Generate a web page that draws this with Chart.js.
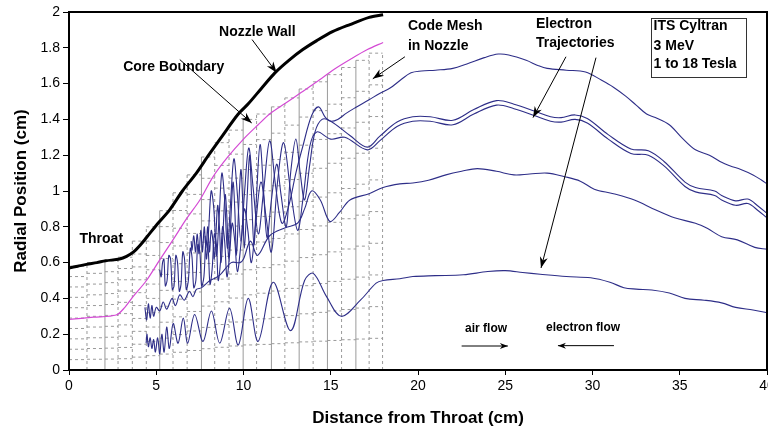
<!DOCTYPE html>
<html><head><meta charset="utf-8">
<script src="https://cdn.jsdelivr.net/npm/chart.js@4/dist/chart.umd.min.js"></script>
<style>html,body{margin:0;padding:0;background:#fff}</style>
</head><body>
<canvas id="c" width="768" height="431"></canvas>
<script>
// ---------------- data ----------------
const nozzleWall = [[0,0.57],[0.5,0.58],[1.0,0.59],[1.6,0.60],[2.1,0.61],[2.9,0.62],[3.3,0.635],[3.7,0.66],[4.1,0.70],[4.44,0.74],[5.1,0.82],[5.77,0.895],[6.5,1.0],[7.3,1.10],[8.0,1.20],[8.8,1.31],[9.7,1.43],[10.3,1.49],[11.0,1.57],[11.8,1.66],[12.6,1.73],[13.4,1.79],[14.2,1.84],[15.1,1.89],[16.1,1.93],[17.2,1.97],[18.0,1.985]];
const coreBoundary = [[0,0.283],[1.4,0.295],[2.7,0.307],[3.2,0.35],[3.67,0.41],[4.44,0.50],[5.2,0.615],[5.96,0.727],[6.7,0.84],[7.5,0.95],[8.26,1.08],[9.1,1.19],[10.0,1.29],[10.84,1.37],[11.5,1.43],[12.4,1.49],[13.3,1.55],[14.2,1.61],[15.2,1.68],[16.2,1.74],[17.1,1.79],[18.0,1.83]];
const meshEdges = [0,1.03,2.06,2.81,3.63,4.43,5.2,5.96,6.77,7.59,8.35,9.17,9.98,10.75,11.6,12.37,13.19,13.99,14.81,15.62,16.44,17.2,17.97];
const meshTops = [0.58,0.60,0.61,0.63,0.72,0.80,0.89,0.99,1.09,1.19,1.27,1.34,1.40,1.43,1.47,1.52,1.57,1.61,1.65,1.69,1.73,1.77];
const meshRows = 10;
const meshSolidEdges = [2.06,5.2,7.59,9.98,11.6,13.19,14.81,16.44];

const traj1 = [[40,1.04],[39.7,1.06],[39.2,1.09],[38.5,1.12],[37.9,1.14],[37.4,1.16],[36.7,1.20],[35.9,1.23],[35.1,1.30],[34.4,1.37],[33.6,1.41],[33.1,1.43],[32.5,1.48],[31.9,1.53],[31.2,1.58],[30.5,1.62],[29.6,1.665],[28.5,1.675],[27.4,1.685],[26.9,1.70],[26.2,1.73],[25.2,1.76],[24.6,1.765],[23.8,1.745],[22.8,1.71],[22.0,1.685],[21.0,1.675],[20.2,1.67],[19.6,1.66],[19.0,1.62],[18.4,1.575],[17.8,1.545],[17.2,1.51],[16.4,1.465],[15.9,1.435],[15.4,1.40],[15.0,1.39],[14.7,1.41],[14.3,1.47],[13.9,1.42],[13.4,1.25],[13.0,1.10],[12.6,0.92],[12.2,0.82],[11.85,1.02],[11.5,1.28],[11.15,1.0],[10.85,0.76],[10.55,1.02],[10.3,1.24],[10.05,0.98],[9.85,0.72],[9.65,0.98],[9.45,1.18],[9.25,0.92],[9.08,0.68],[8.92,0.95],[8.76,1.1],[8.6,0.85],[8.45,0.64],[8.3,0.9],[8.15,1.0],[8.0,0.78],[7.88,0.62],[7.8,0.75]];
const traj2 = [[40,0.875],[39.5,0.915],[38.9,0.955],[38.2,0.945],[37.4,0.975],[37.0,1.0],[35.9,1.02],[35.3,1.05],[34.1,1.165],[33.2,1.225],[32.2,1.235],[30.9,1.315],[29.7,1.405],[29.0,1.425],[28.2,1.41],[27.6,1.415],[26.7,1.445],[25.5,1.485],[24.5,1.505],[23.2,1.455],[22.0,1.395],[20.7,1.415],[19.7,1.415],[18.8,1.385],[17.8,1.305],[17.1,1.245],[16.1,1.31],[15.0,1.39],[14.5,1.40],[14.1,1.33],[13.8,1.15],[13.5,0.95],[13.25,1.1],[13.0,1.29],[12.7,1.1],[12.45,0.8],[12.15,0.98],[11.9,1.15],[11.6,0.95],[11.35,0.74],[11.15,1.0],[10.95,1.26],[10.75,0.98],[10.6,0.7],[10.45,1.0],[10.35,1.2],[10.2,0.95],[10.05,0.68],[9.95,0.95],[9.85,1.12],[9.72,0.9],[9.6,0.64],[9.5,0.9],[9.4,1.05],[9.28,0.85],[9.15,0.62],[9.05,0.85],[8.95,0.98],[8.84,0.8],[8.72,0.6],[8.62,0.8],[8.52,0.92],[8.42,0.76],[8.32,0.62],[8.25,0.72],[8.15,0.78],[8.05,0.66],[7.95,0.8],[7.85,0.68],[7.75,0.8],[7.65,0.66],[7.55,0.78],[7.45,0.65],[7.35,0.76],[7.25,0.66],[7.15,0.75],[7.05,0.67],[7.0,0.72]];
const traj3 = [[40,0.85],[39.5,0.89],[38.9,0.93],[38.2,0.92],[37.4,0.95],[37.0,0.975],[35.9,0.995],[35.3,1.025],[34.1,1.14],[33.2,1.20],[32.2,1.21],[30.9,1.29],[29.7,1.38],[29.0,1.40],[28.2,1.385],[27.6,1.39],[26.7,1.42],[25.5,1.46],[24.5,1.48],[23.2,1.43],[22.0,1.37],[20.7,1.39],[19.7,1.39],[18.8,1.36],[17.8,1.28],[17.1,1.23],[15.8,1.30],[15.0,1.29],[14.2,1.33],[13.8,1.25],[13.4,0.95],[13.1,0.78],[12.7,1.0],[12.3,1.27],[11.95,1.05],[11.6,0.66],[11.3,0.85],[11.0,1.05],[10.7,0.82],[10.45,0.6],[10.25,0.78],[10.05,0.9],[9.85,0.7],[9.65,0.55],[9.5,0.72],[9.35,0.82],[9.2,0.64],[9.05,0.52],[8.92,0.72],[8.8,0.8],[8.68,0.6],[8.55,0.5],[8.45,0.7],[8.33,0.76],[8.2,0.56],[8.08,0.48],[7.97,0.68],[7.85,0.72],[7.73,0.52],[7.6,0.47],[7.5,0.66],[7.38,0.7],[7.27,0.5],[7.15,0.46],[7.05,0.63],[6.95,0.68],[6.84,0.5],[6.72,0.45],[6.62,0.62],[6.52,0.66],[6.42,0.48],[6.32,0.44],[6.22,0.6],[6.12,0.64],[6.02,0.47],[5.92,0.45],[5.82,0.62],[5.72,0.64],[5.62,0.5],[5.52,0.47],[5.44,0.62],[5.36,0.6],[5.28,0.52],[5.2,0.56]];
const traj4 = [[40,0.675],[39.3,0.685],[38.3,0.727],[37.4,0.745],[36.6,0.79],[35.9,0.82],[34.7,0.85],[33.6,0.895],[32.4,0.95],[31.2,0.985],[30.1,1.01],[29.3,1.055],[28.4,1.08],[27.4,1.10],[26.4,1.095],[25.5,1.09],[24.5,1.11],[23.4,1.125],[22.5,1.11],[21.6,1.09],[20.6,1.06],[19.7,1.045],[18.96,1.04],[18.0,1.02],[17.2,0.985],[16.1,0.95],[15.5,0.88],[14.95,0.83],[14.4,0.95],[13.9,1.0],[13.5,0.9],[13.1,0.82],[12.4,0.795],[11.5,0.75],[10.8,0.64],[10.4,0.72],[10.0,0.62],[9.8,0.6],[9.3,0.6],[8.64,0.53],[8.3,0.51],[8.07,0.50],[7.6,0.46],[7.3,0.45],[7.1,0.41],[6.9,0.44],[6.6,0.39],[6.35,0.42],[6.1,0.36],[5.9,0.40],[5.6,0.34],[5.4,0.38],[5.2,0.33],[5.0,0.35],[4.85,0.30],[4.75,0.36],[4.65,0.29],[4.55,0.37],[4.45,0.28],[4.35,0.35]];
const traj5 = [[40,0.32],[39.2,0.335],[38.2,0.35],[37.4,0.375],[36.4,0.39],[35.3,0.40],[34.4,0.43],[33.4,0.447],[32.5,0.452],[31.8,0.46],[31.0,0.49],[29.9,0.515],[28.5,0.522],[27.0,0.535],[26.0,0.545],[25.0,0.555],[24.0,0.55],[22.6,0.532],[21.0,0.527],[19.7,0.522],[18.96,0.51],[18.0,0.50],[17.6,0.485],[16.7,0.39],[15.6,0.30],[14.76,0.41],[14.0,0.54],[13.5,0.50],[12.7,0.22],[11.7,0.49],[10.84,0.16],[10.27,0.40],[9.7,0.14],[9.2,0.345],[8.64,0.15],[8.16,0.33],[7.68,0.16],[7.2,0.31],[6.8,0.15],[6.55,0.29],[6.25,0.15],[5.97,0.26],[5.75,0.12],[5.6,0.24],[5.45,0.10],[5.32,0.2],[5.2,0.09],[5.08,0.18],[4.95,0.1],[4.85,0.17],[4.75,0.12],[4.65,0.18],[4.55,0.13],[4.47,0.2],[4.42,0.15]];

const labels = [
  {t:'Nozzle Wall', x:10.79, y:1.885, a:'center'},
  {t:'Core Boundary', x:6.0, y:1.69, a:'center'},
  {t:'Code Mesh', x:19.42, y:1.92, a:'left'},
  {t:'in Nozzle', x:19.42, y:1.812, a:'left'},
  {t:'Electron', x:26.76, y:1.93, a:'left'},
  {t:'Trajectories', x:26.76, y:1.827, a:'left'},
  {t:'ITS Cyltran', x:33.5, y:1.92, a:'left'},
  {t:'3 MeV', x:33.5, y:1.808, a:'left'},
  {t:'1 to 18 Tesla', x:33.5, y:1.706, a:'left'},
  {t:'Throat', x:1.85, y:0.731, a:'center'}
];
const smallLabels = [
  {t:'air flow', x:23.9, y:0.233},
  {t:'electron flow', x:29.46, y:0.235}
];
const arrows = [
  {x1:10.49,y1:1.846,x2:11.9,y2:1.661},
  {x1:6.35,y1:1.734,x2:10.47,y2:1.38},
  {x1:19.25,y1:1.75,x2:17.41,y2:1.627},
  {x1:28.48,y1:1.75,x2:26.59,y2:1.41},
  {x1:30.2,y1:1.745,x2:27.05,y2:0.57},
  {x1:22.5,y1:0.134,x2:25.15,y2:0.134},
  {x1:31.23,y1:0.136,x2:28.02,y2:0.136}
];
const infoBox = {x1:33.34, y1:1.967, x2:38.76, y2:1.637};

// ---------------- build datasets ----------------
const pts = a => a.map(p => ({x:p[0], y:p[1]}));
const meshH = [], meshVd = [], meshVs = [];
for (let i = 0; i < meshTops.length; i++) {
  for (let k = 1; k <= meshRows; k++) {
    const yy = meshTops[i] * k / meshRows;
    meshH.push({x:meshEdges[i], y:yy}, {x:meshEdges[i+1], y:yy}, {x:meshEdges[i+1], y:null});
  }
}
for (let j = 1; j < meshEdges.length; j++) {
  const top = Math.max(meshTops[j-1], j < meshTops.length ? meshTops[j] : 0);
  const target = meshSolidEdges.includes(meshEdges[j]) ? meshVs : meshVd;
  target.push({x:meshEdges[j], y:0}, {x:meshEdges[j], y:top}, {x:meshEdges[j], y:null});
}

const trajColor = '#2e2e88';
const trajDs = (d) => ({data:pts(d), borderColor:trajColor, borderWidth:1.1, pointRadius:0, tension:0.35, fill:false});

Chart.defaults.font.family = 'Arial, "Liberation Sans", sans-serif';
Chart.defaults.color = '#000';

function arrow(ctx, x1, y1, x2, y2, len, w) {
  ctx.beginPath(); ctx.moveTo(x1, y1); ctx.lineTo(x2, y2); ctx.stroke();
  const ang = Math.atan2(y2 - y1, x2 - x1);
  const bx = x2 - len * Math.cos(ang), by = y2 - len * Math.sin(ang);
  ctx.beginPath(); ctx.moveTo(x2, y2);
  ctx.lineTo(bx + w * Math.sin(ang), by - w * Math.cos(ang));
  ctx.lineTo(x2 - len * 0.7 * Math.cos(ang), y2 - len * 0.7 * Math.sin(ang));
  ctx.lineTo(bx - w * Math.sin(ang), by + w * Math.cos(ang));
  ctx.closePath(); ctx.fill();
}

const annot = {
  id: 'annot',
  afterDatasetsDraw(chart) {
    const {ctx, chartArea: a, scales: {x, y}} = chart;
    ctx.save();
    ctx.strokeStyle = '#000'; ctx.lineWidth = 2;
    ctx.strokeRect(a.left, a.top, a.right - a.left, a.bottom - a.top);
    ctx.lineWidth = 1; ctx.strokeStyle = '#333';
    const bx1 = x.getPixelForValue(infoBox.x1), by1 = y.getPixelForValue(infoBox.y1);
    const bx2 = x.getPixelForValue(infoBox.x2), by2 = y.getPixelForValue(infoBox.y2);
    ctx.strokeRect(Math.round(bx1) + 0.5, Math.round(by1) + 0.5, Math.round(bx2 - bx1), Math.round(by2 - by1));
    ctx.fillStyle = '#000';
    ctx.textBaseline = 'middle';
    ctx.font = 'bold 14px Arial, "Liberation Sans", sans-serif';
    labels.forEach(l => { ctx.textAlign = l.a; ctx.fillText(l.t, x.getPixelForValue(l.x), y.getPixelForValue(l.y)); });
    ctx.font = 'bold 12px Arial, "Liberation Sans", sans-serif';
    ctx.textAlign = 'center';
    smallLabels.forEach(l => ctx.fillText(l.t, x.getPixelForValue(l.x), y.getPixelForValue(l.y)));
    ctx.strokeStyle = '#000'; ctx.lineWidth = 1;
    arrows.forEach((r, i) => arrow(ctx, x.getPixelForValue(r.x1), y.getPixelForValue(r.y1), x.getPixelForValue(r.x2), y.getPixelForValue(r.y2), i >= 5 ? 8 : 11, i >= 5 ? 3 : 4));
    ctx.restore();
  }
};

const fmt = v => String(parseFloat(Number(v).toFixed(1)));

new Chart(document.getElementById('c'), {
  type: 'line',
  data: {
    datasets: [
      trajDs(traj1), trajDs(traj2), trajDs(traj3), trajDs(traj4), trajDs(traj5),
      {data:pts(nozzleWall), borderColor:'#000', borderWidth:3, pointRadius:0, tension:0.3},
      {data:pts(coreBoundary), borderColor:'#d44ad4', borderWidth:1.2, pointRadius:0, tension:0.3},
      {data:meshVs, borderColor:'#9a9a9a', borderWidth:1, pointRadius:0, tension:0, spanGaps:false},
      {data:meshVd, borderColor:'#9a9a9a', borderWidth:1, borderDash:[3,3], pointRadius:0, tension:0, spanGaps:false},
      {data:meshH, borderColor:'#9a9a9a', borderWidth:1, borderDash:[3,3], pointRadius:0, tension:0, spanGaps:false}
    ]
  },
  options: {
    responsive: false, animation: false, devicePixelRatio: 1,
    layout: {padding: {top: 12, right: 1, left: 0, bottom: 0}},
    plugins: {legend: {display: false}, tooltip: {enabled: false}},
    scales: {
      x: {
        type: 'linear', min: 0, max: 40,
        ticks: {stepSize: 5, font: {size: 14}, padding: 3, maxRotation: 0, callback: fmt},
        grid: {drawOnChartArea: false, tickLength: 5, color: '#000'},
        border: {color: '#000', width: 2},
        title: {display: true, text: 'Distance from Throat (cm)', font: {size: 17, weight: 'bold'}, padding: {top: 0, bottom: 2}},
        afterFit(s) { s.height = 61; s.paddingRight = 0; s.paddingLeft = 0; }
      },
      y: {
        type: 'linear', min: 0, max: 2,
        ticks: {stepSize: 0.2, font: {size: 14}, padding: 3, callback: fmt},
        grid: {drawOnChartArea: false, tickLength: 6, color: '#000'},
        border: {color: '#000', width: 2},
        title: {display: true, text: 'Radial Position (cm)', font: {size: 17, weight: 'bold'}, padding: {top: 11, bottom: 0}},
        afterFit(s) { s.width = 69; s.paddingTop = 0; s.paddingBottom = 0; }
      }
    }
  },
  plugins: [annot]
});
</script>
</body></html>
